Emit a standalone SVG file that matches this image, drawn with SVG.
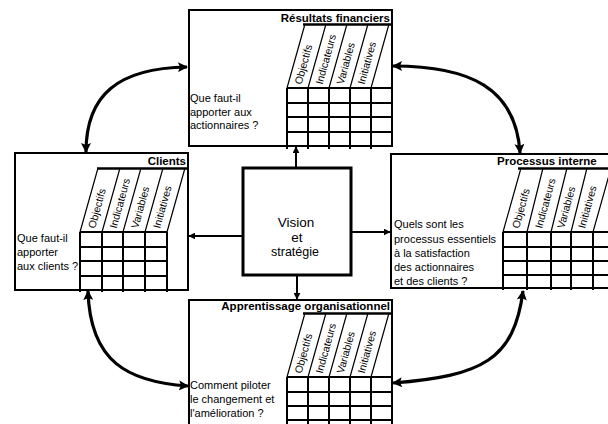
<svg xmlns="http://www.w3.org/2000/svg" width="608" height="424" viewBox="0 0 608 424">
<style>
  text { font-family: "Liberation Sans", Arial, sans-serif; fill: #000; }
  .q { font-size: 11px; }
  .title { font-size: 11.5px; font-weight: bold; }
  .col { font-size: 10.5px; }
  .box { fill: #fff; stroke: #000; stroke-width: 2; }
  .grid { fill: none; stroke: #000; stroke-width: 2; }
  .hdr { fill: none; stroke: #000; stroke-width: 2.5; }
  .slant { fill: none; stroke: #000; stroke-width: 1.2; }
  .link { fill: none; stroke: #000; stroke-width: 2; }
  .curve { fill: none; stroke: #000; stroke-width: 3.2; }
</style>
<defs>
  <marker id="ah" viewBox="0 0 10 10" refX="9" refY="5" markerUnits="userSpaceOnUse" markerWidth="7" markerHeight="7" orient="auto-start-reverse">
    <path d="M0,0 L10,5 L0,10 z" fill="#000"/>
  </marker>
  <marker id="big" viewBox="0 0 10 10" refX="9" refY="5" markerUnits="userSpaceOnUse" markerWidth="11" markerHeight="10" orient="auto-start-reverse">
    <path d="M0,0 L10,5 L0,10 L2,5 z" fill="#000"/>
  </marker>
</defs>

<rect width="608" height="424" fill="#fff"/>

<!-- Top: Résultats financiers -->
<g id="resultats">
  <rect class="box" x="189" y="10" width="203" height="136"/>
  <text class="title" x="390" y="22" text-anchor="end">Résultats financiers</text>
  <line class="hdr" x1="303" y1="24.5" x2="392" y2="24.5"/>
  <path class="slant" d="M287,88 L305,24 M308,88 L326,24 M329,88 L347,24 M350,88 L368,24 M371,88 L389,24"/>
  <path class="grid" d="M287,88 H392 M287,103 H392 M287,117 H392 M287,132 H392 M287,88 V149 M308,88 V149 M329,88 V149 M350,88 V149 M371,88 V149"/>
  <text class="col" transform="translate(301.5,85) rotate(-74.5)">Objectifs</text>
  <text class="col" transform="translate(322.5,85) rotate(-74.5)">Indicateurs</text>
  <text class="col" transform="translate(343.5,85) rotate(-74.5)">Variables</text>
  <text class="col" transform="translate(364.5,85) rotate(-74.5)">Initiatives</text>
  <text class="q" x="190" y="102">Que faut-il</text>
  <text class="q" x="190" y="115.5">apporter aux</text>
  <text class="q" x="190" y="129">actionnaires ?</text>
</g>

<!-- Left: Clients -->
<g id="clients">
  <rect class="box" x="15" y="153" width="173" height="137"/>
  <text class="title" x="186" y="165" text-anchor="end">Clients</text>
  <line class="hdr" x1="97" y1="168.5" x2="187" y2="168.5"/>
  <path class="slant" d="M80,232 L98,168 M102,232 L120,168 M123,232 L141,168 M145,232 L163,168 M167,232 L185,168"/>
  <path class="grid" d="M80,232 H167 M80,247 H167 M80,261 H167 M80,276 H167 M80,232 V292 M102,232 V292 M123,232 V292 M145,232 V292 M167,232 V292"/>
  <text class="col" transform="translate(95,229) rotate(-74.5)">Objectifs</text>
  <text class="col" transform="translate(116.5,229) rotate(-74.5)">Indicateurs</text>
  <text class="col" transform="translate(138,229) rotate(-74.5)">Variables</text>
  <text class="col" transform="translate(160,229) rotate(-74.5)">Initiatives</text>
  <text class="q" x="17" y="242">Que faut-il</text>
  <text class="q" x="17" y="256">apporter</text>
  <text class="q" x="17" y="270">aux clients ?</text>
</g>

<!-- Right: Processus interne -->
<g id="processus">
  <rect class="box" x="391" y="154" width="230" height="134"/>
  <text class="title" x="497" y="165">Processus interne</text>
  <line class="hdr" x1="518" y1="168.5" x2="608" y2="168.5"/>
  <path class="slant" d="M503,232 L521,168 M527,232 L543,168 M551,232 L567,168 M571,232 L587,168 M593,232 L611,168"/>
  <path class="grid" d="M503,232 H608 M503,247 H608 M503,261 H608 M503,275 H608 M503,232 V290 M527,232 V290 M551,232 V290 M571,232 V290 M593,232 V290"/>
  <text class="col" transform="translate(519,229) rotate(-74.5)">Objectifs</text>
  <text class="col" transform="translate(542,229) rotate(-74.5)">Indicateurs</text>
  <text class="col" transform="translate(564,229) rotate(-74.5)">Variables</text>
  <text class="col" transform="translate(585,229) rotate(-74.5)">Initiatives</text>
  <text class="q" x="394" y="228">Quels sont les</text>
  <text class="q" x="394" y="243">processus essentiels</text>
  <text class="q" x="394" y="257">à la satisfaction</text>
  <text class="q" x="394" y="271">des actionnaires</text>
  <text class="q" x="394" y="285">et des clients ?</text>
</g>

<!-- Bottom: Apprentissage organisationnel -->
<g id="apprentissage">
  <rect class="box" x="189" y="300" width="203" height="140"/>
  <text class="title" x="390" y="310" text-anchor="end">Apprentissage organisationnel</text>
  <line class="hdr" x1="303" y1="313.5" x2="392" y2="313.5"/>
  <path class="slant" d="M287,377 L305,313 M308,377 L326,313 M329,377 L347,313 M350,377 L368,313 M371,377 L389,313"/>
  <path class="grid" d="M287,377 H392 M287,392 H392 M287,406 H392 M287,420 H392 M287,377 V424 M308,377 V424 M329,377 V424 M350,377 V424 M371,377 V424"/>
  <text class="col" transform="translate(301.5,374) rotate(-74.5)">Objectifs</text>
  <text class="col" transform="translate(322.5,374) rotate(-74.5)">Indicateurs</text>
  <text class="col" transform="translate(343.5,374) rotate(-74.5)">Variables</text>
  <text class="col" transform="translate(364.5,374) rotate(-74.5)">Initiatives</text>
  <text class="q" x="190" y="389">Comment piloter</text>
  <text class="q" x="190" y="403">le changement et</text>
  <text class="q" x="190" y="417">l'amélioration ?</text>
</g>

<!-- Center: Vision et stratégie -->
<g id="vision">
  <rect x="243" y="168" width="108" height="107" fill="#fff" stroke="#000" stroke-width="3"/>
  <text x="296" y="227" text-anchor="middle" font-size="13.5">Vision</text>
  <text x="297" y="242" text-anchor="middle" font-size="13.5">et</text>
  <text x="295" y="256" text-anchor="middle" font-size="12.5" fill="#222">stratégie</text>
</g>

<!-- Connectors -->
<g id="connectors">
  <line class="link" x1="296" y1="167" x2="296" y2="147" marker-end="url(#ah)"/>
  <line class="link" x1="242" y1="236" x2="189" y2="236" marker-end="url(#ah)"/>
  <line class="link" x1="352" y1="232" x2="390" y2="232" marker-end="url(#ah)"/>
  <line class="link" x1="297" y1="276" x2="297" y2="299" marker-end="url(#ah)"/>
  <path class="curve" d="M86,152 C86,95 118,68 187,67" marker-start="url(#big)" marker-end="url(#big)"/>
  <path class="curve" d="M393,66 C470,66 516,88 520,153" marker-start="url(#big)" marker-end="url(#big)"/>
  <path class="curve" d="M88,291 C90,362 128,382 188,386" marker-start="url(#big)" marker-end="url(#big)"/>
  <path class="curve" d="M523,291 C514,360 482,376 393,383" marker-start="url(#big)" marker-end="url(#big)"/>
</g>
</svg>
